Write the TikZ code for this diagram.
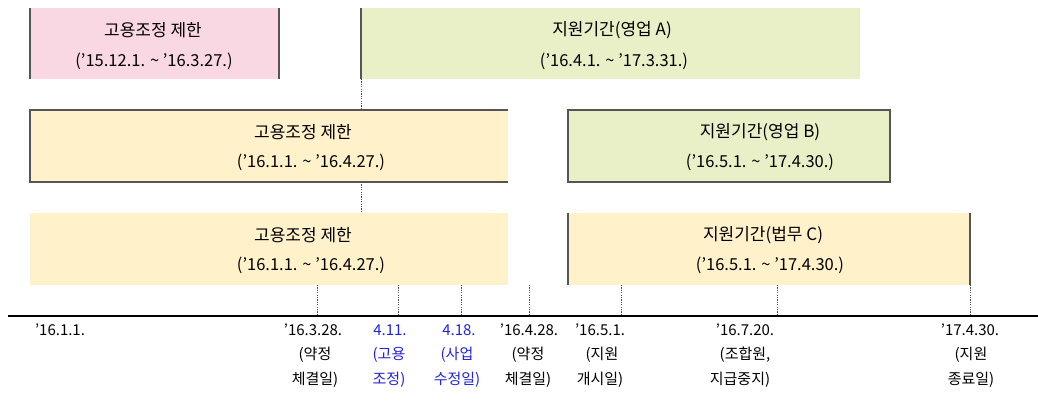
\documentclass[tikz,border=0pt]{standalone}
\usepackage{fontspec}
\setmainfont{Noto Sans CJK KR}
\definecolor{pinkc}{HTML}{F9D8E4}
\definecolor{greenc}{HTML}{E9F0C8}
\definecolor{yellowc}{HTML}{FFF2CB}
\definecolor{bordc}{HTML}{555555}
\definecolor{bluec}{HTML}{2222E0}
\tikzset{
  boxbase/.style={inner sep=0pt, outer sep=0pt, anchor=north west, minimum height=72},
  edgeline/.style={draw=bordc, line width=1.3pt},
  dotline/.style={draw=black!70, line width=0.7pt, dash pattern=on 1.2pt off 1.2pt},
  axisline/.style={draw=black, line width=1.1pt},
  btxt/.style={inner sep=0pt, font=\fontsize{17}{20}\selectfont},
  bdate/.style={inner sep=0pt, font=\fontsize{16.5}{20}\selectfont},
  lbl/.style={inner sep=0pt, font=\fontsize{15}{18}\selectfont},
  bluelbl/.style={lbl, text=bluec}
}
\begin{document}
\begin{tikzpicture}[x=1pt,y=-1pt]
\useasboundingbox (0,0) rectangle (1038,407);
% boxes
\node[boxbase, fill=pinkc, minimum width=249, minimum height=71] (pk) at (30,8) {};
\node[boxbase, fill=greenc, minimum width=499, minimum height=71] (ga) at (361,8) {};
\node[boxbase, fill=yellowc, minimum width=478] (r2l) at (30,110) {};
\node[boxbase, fill=greenc, draw=bordc, line width=1.3pt, minimum width=322] (gb) at (568,110) {};
\node[boxbase, fill=yellowc, minimum width=478] (r3l) at (30,213) {};
\node[boxbase, fill=yellowc, minimum width=402] (gc) at (568,213) {};
% box edges
\draw[edgeline] (pk.north west) -- (pk.south west);
\draw[edgeline] (pk.north east) -- (pk.south east);
\draw[edgeline] (ga.north west) -- (ga.south west);
\draw[edgeline] (r2l.north east) -- (r2l.north west) -- (r2l.south west) -- (r2l.south east);
\draw[edgeline] (gc.north west) -- (gc.south west);
\draw[edgeline] (gc.north east) -- (gc.south east);
% dotted guide under A
\draw[dotline] (ga.south west) -- (ga.south west |- r2l.north);
\draw[dotline] (ga.south west |- r2l.south) -- (ga.south west |- r3l.north);
% box texts
\node[btxt] (pkt) at (153,30) {고용조정 제한};
\node[bdate] (pkd) at (154,61) {(’15.12.1. \textasciitilde{} ’16.3.27.)};
\node[btxt] (gat) at (612,30) {지원기간(영업 A)};
\node[bdate] (gad) at (614,61) {(’16.4.1. \textasciitilde{} ’17.3.31.)};
\node[btxt] (r2lt) at (303,132) {고용조정 제한};
\node[bdate] (r2ld) at (311,162) {(’16.1.1. \textasciitilde{} ’16.4.27.)};
\node[btxt] (gbt) at (760,132) {지원기간(영업 B)};
\node[bdate] (gbd) at (760,162) {(’16.5.1. \textasciitilde{} ’17.4.30.)};
\node[btxt] (r3lt) at (303,235) {고용조정 제한};
\node[bdate] (r3ld) at (311,265) {(’16.1.1. \textasciitilde{} ’16.4.27.)};
\node[btxt] (gct) at (763,235) {지원기간(법무 C)};
\node[bdate] (gcd) at (770,265) {(’16.5.1. \textasciitilde{} ’17.4.30.)};
% axis
\coordinate (ax0) at (8,316);
\coordinate (ax1) at (1038,316);
\draw[axisline] (ax0) -- (ax1);
% ticks
\coordinate (t1) at (317,316);
\coordinate (t2) at (398,316);
\coordinate (t3) at (461,316);
\coordinate (t4) at (529,316);
\coordinate (t5) at (621,316);
\coordinate (t6) at (777,316);
\coordinate (t7) at (970,316);
\foreach \t in {t1,t2,t3,t4}{\draw[dotline] (\t |- r3l.south) -- (\t);}
\foreach \t in {t5,t6,t7}{\draw[dotline] (\t |- gc.south) -- (\t);}
% labels
\node[lbl] (d0a) at (60,330) {’16.1.1.};
\node[lbl] (d1a) at (313,330) {’16.3.28.};
\node[lbl] (d1b) at (315,355) {(약정};
\node[lbl] (d1c) at (315,380) {체결일)};
\node[bluelbl] (d2a) at (390,330) {4.11.};
\node[bluelbl] (d2b) at (389,355) {(고용};
\node[bluelbl] (d2c) at (389,380) {조정)};
\node[bluelbl] (d3a) at (459,330) {4.18.};
\node[bluelbl] (d3b) at (457,355) {(사업};
\node[bluelbl] (d3c) at (457,380) {수정일)};
\node[lbl] (d4a) at (529,330) {’16.4.28.};
\node[lbl] (d4b) at (528,355) {(약정};
\node[lbl] (d4c) at (528,380) {체결일)};
\node[lbl] (d5a) at (600,330) {’16.5.1.};
\node[lbl] (d5b) at (602,355) {(지원};
\node[lbl] (d5c) at (600,380) {개시일)};
\node[lbl] (d6a) at (745,330) {’16.7.20.};
\node[lbl] (d6b) at (745,355) {(조합원,};
\node[lbl] (d6c) at (740,380) {지급중지)};
\node[lbl] (d7a) at (970,330) {’17.4.30.};
\node[lbl] (d7b) at (971,355) {(지원};
\node[lbl] (d7c) at (971,380) {종료일)};
\end{tikzpicture}
\end{document}
